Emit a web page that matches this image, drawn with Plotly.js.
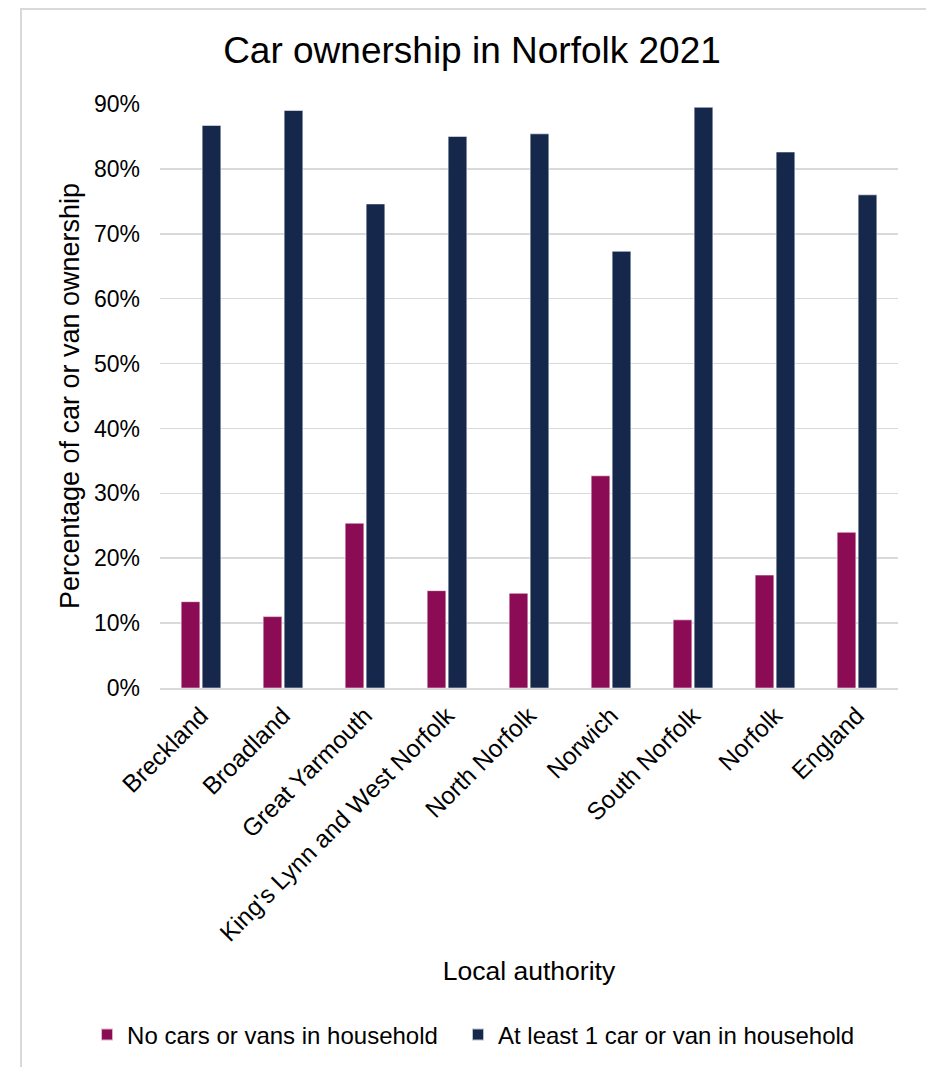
<!DOCTYPE html>
<html>
<head>
<meta charset="utf-8">
<script src="https://cdn.plot.ly/plotly-3.0.1.min.js"></script>
<style>
  html, body { margin: 0; padding: 0; background: #ffffff; }
  #wrap { position: relative; width: 926px; height: 1067px; }
  #chart { position: absolute; left: 0; top: 0; width: 926px; height: 1067px; }
  #frame { position: absolute; left: 20px; top: 8px; width: 906px; height: 1059px;
           border-left: 2px solid #d9d9d9; border-top: 2px solid #d9d9d9; pointer-events: none; box-sizing: border-box; }
</style>
</head>
<body>
<div id="wrap">
  <div id="chart"></div>
  <div id="frame"></div>
</div>
<script>
const categories = ["Breckland", "Broadland", "Great Yarmouth", "King's Lynn and West Norfolk",
                    "North Norfolk", "Norwich", "South Norfolk", "Norfolk", "England"];
const noCar = [13.3, 11.0, 25.4, 15.0, 14.6, 32.7, 10.5, 17.4, 24.0];
const atLeastOne = [86.7, 89.0, 74.6, 85.0, 85.4, 67.3, 89.5, 82.6, 76.0];
const seriesNames = ["No cars or vans in household", "At least 1 car or van in household"];
const yTickVals = [0, 10, 20, 30, 40, 50, 60, 70, 80, 90];
const yTickText = ["0%", "10%", "20%", "30%", "40%", "50%", "60%", "70%", "80%", "90%"];

const FONT = "Liberation Sans, Arial, sans-serif";

const traces = [
  {
    type: "bar", name: seriesNames[0], x: categories, y: noCar, legend: "legend",
    marker: { color: "#8b0c55", line: { color: "rgba(255,255,255,0.7)", width: 0.75 } },
    hoverinfo: "x+y"
  },
  {
    type: "bar", name: seriesNames[1], x: categories, y: atLeastOne, legend: "legend2",
    marker: { color: "#15284c", line: { color: "rgba(255,255,255,0.7)", width: 0.75 } },
    hoverinfo: "x+y"
  }
];

const legendFont = { family: FONT, size: 24, color: "#000000" };

const layout = {
  width: 926, height: 1067,
  paper_bgcolor: "rgba(0,0,0,0)", plot_bgcolor: "#ffffff",
  font: { family: FONT, color: "#000000", size: 23 },
  margin: { l: 160, r: 28, t: 104, b: 379, pad: 0 },
  barmode: "group", bargap: 0.488, bargroupgap: 0.11,
  title: {
    text: "Car ownership in Norfolk 2021",
    font: { family: FONT, size: 37, color: "#000000" },
    xref: "container", yref: "container", x: 0.5097, y: 0.953,
    xanchor: "center", yanchor: "middle"
  },
  xaxis: {
    type: "category", tickangle: -45,
    tickfont: { family: FONT, size: 24.5, color: "#000000" },
    showline: true, linecolor: "#d9d9d9", linewidth: 1.5,
    ticks: "", showgrid: false, automargin: false, ticklabelstandoff: 2,
    title: { text: "Local authority", font: { family: FONT, size: 26.5, color: "#000000" }, standoff: 16 }
  },
  yaxis: {
    range: [0, 90], tickmode: "array", tickvals: yTickVals, ticktext: yTickText,
    tickfont: { family: FONT, size: 23, color: "#000000" },
    showgrid: true, gridcolor: "#d9d9d9", gridwidth: 1.5,
    zeroline: false, showline: false, ticks: "", ticklabelstandoff: 19,
    automargin: false,
    title: { text: "Percentage of car or van ownership", font: { family: FONT, size: 27, color: "#000000" }, standoff: 6 }
  },
  showlegend: true,
  legend: {
    orientation: "h", xref: "container", yref: "container",
    x: 0.0940, xanchor: "left", y: 0.030, yanchor: "middle",
    font: legendFont, itemsizing: "constant", bgcolor: "rgba(0,0,0,0)"
  },
  legend2: {
    orientation: "h", xref: "container", yref: "container",
    x: 0.4946, xanchor: "left", y: 0.030, yanchor: "middle",
    font: legendFont, itemsizing: "constant", bgcolor: "rgba(0,0,0,0)"
  }
};

Plotly.newPlot("chart", traces, layout, { displayModeBar: false, staticPlot: true });
</script>
</body>
</html>
